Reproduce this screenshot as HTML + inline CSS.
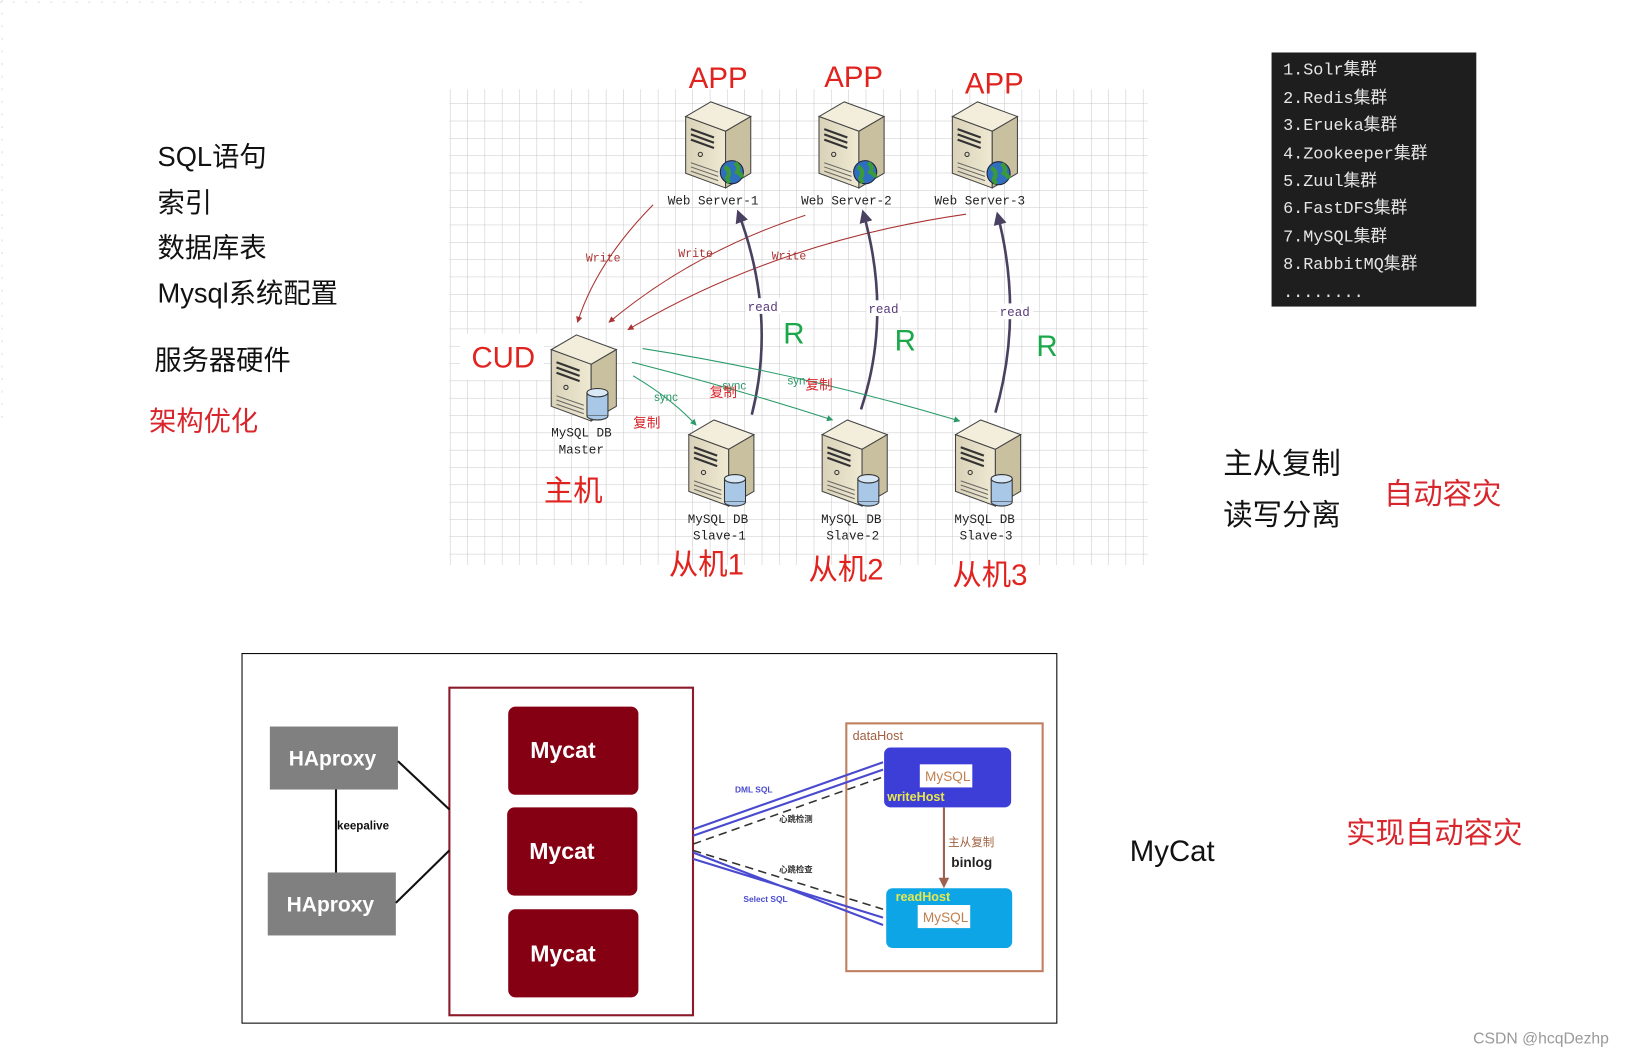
<!DOCTYPE html>
<html><head><meta charset="utf-8"><style>
html,body{margin:0;padding:0;background:#fff;width:1638px;height:1052px;overflow:hidden}
svg text{font-family:"Liberation Sans","Noto Sans CJK SC",sans-serif}
svg .mono text{font-family:"Liberation Mono","DejaVu Sans Mono","Noto Sans CJK SC",monospace}
</style></head><body>
<svg width="1638" height="1052" viewBox="0 0 1560 1002" preserveAspectRatio="none" xmlns="http://www.w3.org/2000/svg">
<defs>
<pattern id="grid" width="16.5" height="16.5" patternUnits="userSpaceOnUse">
<path d="M16.5 0V16.5H0" fill="none" stroke="#c8c8c8" stroke-width="1"/>
</pattern>
<linearGradient id="tw" x1="0" x2="1"><stop offset="0" stop-color="#d9d2b8"/><stop offset="1" stop-color="#efe9d3"/></linearGradient>
<g id="srv">
<polygon points="0,14 24,0 62,14 38,28" fill="#f3eedc" stroke="#444" stroke-width="1"/>
<polygon points="0,14 38,28 38,82 0,68" fill="url(#tw)" stroke="#444" stroke-width="1"/>
<polygon points="38,28 62,14 62,68 38,82" fill="#c9c0a0" stroke="#444" stroke-width="1"/>
<path d="M5 26l22 8M5 31l22 8M5 36l22 8" stroke="#333" stroke-width="2"/>
<circle cx="14" cy="50" r="2" fill="none" stroke="#333"/>
<path d="M5 58l26 9M5 62l26 9M5 66l26 9" stroke="#666" stroke-width="1"/>
</g>
<g id="globe"><circle cx="0" cy="0" r="11" fill="#2f6fbf" stroke="#223"/><path d="M-7-5q5 2 4 8q-3 3 1 7M3-9q5 4 2 9q4 2 5 5" stroke="#3a9a3a" stroke-width="4" fill="none"/></g>
<g id="db"><rect x="-10" y="-10" width="20" height="22" fill="#a9c8e8" stroke="#333"/><ellipse cx="0" cy="-10" rx="10" ry="4" fill="#d8e8f6" stroke="#333"/><path d="M-10 12a10 4 0 0 0 20 0" fill="#a9c8e8" stroke="#333"/></g>
<marker id="ar" viewBox="0 0 10 10" refX="9" refY="5" markerWidth="6" markerHeight="6" orient="auto"><path d="M0 0L10 5L0 10z" fill="#a33"/></marker>
<marker id="ag" viewBox="0 0 10 10" refX="9" refY="5" markerWidth="6" markerHeight="6" orient="auto"><path d="M0 0L10 5L0 10z" fill="#2a9a6a"/></marker>
<marker id="ab" viewBox="0 0 10 10" refX="8" refY="5" markerWidth="5" markerHeight="5" orient="auto"><path d="M0 0L10 5L0 10z" fill="#4a4060"/></marker>
</defs>

<path d="M0 2H555" stroke="#ddd" stroke-dasharray="2 10"/>
<path d="M2 0V400" stroke="#ddd" stroke-dasharray="2 10"/>

<g font-size="26" fill="#111">
<text x="150" y="158">SQL语句</text>
<text x="150" y="202">索引</text>
<text x="150" y="245">数据库表</text>
<text x="150" y="288">Mysql系统配置</text>
<text x="147" y="352">服务器硬件</text>
<text x="142" y="410" fill="#d9262c">架构优化</text>
</g>

<rect x="428" y="85" width="665" height="453" fill="url(#grid)"/>
<rect x="438" y="318" width="80" height="44" fill="#fff"/>

<g font-size="28" fill="#e0231f">
<text x="656" y="84">APP</text><text x="785" y="83">APP</text><text x="919" y="89">APP</text>
<text x="449" y="350">CUD</text>
<text x="518" y="477">主机</text>
<text x="637" y="547">从机1</text><text x="770" y="552">从机2</text><text x="907" y="557">从机3</text>
</g>

<use href="#srv" x="653" y="97"/><use href="#globe" x="697" y="164"/>
<use href="#srv" x="780" y="97"/><use href="#globe" x="824" y="164"/>
<use href="#srv" x="907" y="97"/><use href="#globe" x="951" y="165"/>
<use href="#srv" x="525" y="319"/><use href="#db" x="569" y="384"/>
<use href="#srv" x="656" y="400"/><use href="#db" x="700" y="466"/>
<use href="#srv" x="783" y="400"/><use href="#db" x="827" y="466"/>
<use href="#srv" x="910" y="400"/><use href="#db" x="954" y="466"/>

<g class="mono" font-size="12" fill="#222">
<text x="636" y="195">Web Server-1</text><text x="763" y="195">Web Server-2</text><text x="890" y="195">Web Server-3</text>
<text x="525" y="416">MySQL DB</text><text x="532" y="432">Master</text>
<text x="655" y="498">MySQL DB</text><text x="660" y="514">Slave-1</text>
<text x="782" y="498">MySQL DB</text><text x="787" y="514">Slave-2</text>
<text x="909" y="498">MySQL DB</text><text x="914" y="514">Slave-3</text>
</g>

<g fill="none" stroke="#a33" stroke-width="1">
<path d="M622 195Q568 250 550 307" marker-end="url(#ar)"/>
<path d="M767 205Q660 240 580 307" marker-end="url(#ar)"/>
<path d="M920 204Q740 230 598 314" marker-end="url(#ar)"/>
</g>
<g class="mono" font-size="11" fill="#a33">
<text x="558" y="249">Write</text><text x="646" y="245">Write</text><text x="735" y="247">Write</text>
</g>
<g fill="none" stroke="#4a4060" stroke-width="2.5">
<path d="M716 395Q740 300 703 202" marker-end="url(#ab)"/>
<path d="M820 390Q850 300 822 202" marker-end="url(#ab)"/>
<path d="M948 393Q975 300 950 204" marker-end="url(#ab)"/>
</g>
<rect x="710" y="284" width="34" height="15" fill="#fff"/>
<rect x="825" y="286" width="34" height="15" fill="#fff"/>
<rect x="950" y="289" width="34" height="15" fill="#fff"/>
<g class="mono" font-size="12" fill="#5a3a7a">
<text x="712" y="296">read</text><text x="827" y="298">read</text><text x="952" y="301">read</text>
</g>
<g font-size="28" fill="#1aa84a"><text x="746" y="327">R</text><text x="852" y="334">R</text><text x="987" y="339">R</text></g>

<g fill="none" stroke="#2a9a6a" stroke-width="1">
<path d="M603 358Q640 380 663 405" marker-end="url(#ag)"/>
<path d="M602 345Q700 370 793 400" marker-end="url(#ag)"/>
<path d="M612 332Q760 355 914 401" marker-end="url(#ag)"/>
</g>
<g font-size="11" fill="#2a9a6a"><text x="623" y="382">sync</text><text x="688" y="371">sync</text><text x="750" y="366">syn</text></g>
<g font-size="13" fill="#d9262c"><text x="603" y="407">复制</text><text x="676" y="378">复制</text><text x="767" y="371">复制</text></g>

<rect x="1211" y="50" width="195" height="242" fill="#1e1e1e"/>
<g class="mono" font-size="16" fill="#e6e6e6">
<text x="1222" y="71">1.Solr集群</text><text x="1222" y="98">2.Redis集群</text><text x="1222" y="124">3.Erueka集群</text>
<text x="1222" y="151">4.Zookeeper集群</text><text x="1222" y="177">5.Zuul集群</text><text x="1222" y="203">6.FastDFS集群</text>
<text x="1222" y="230">7.MySQL集群</text><text x="1222" y="256">8.RabbitMQ集群</text><text x="1222" y="283">........</text>
</g>

<g font-size="28" fill="#111"><text x="1165" y="451">主从复制</text><text x="1165" y="500">读写分离</text>
<text x="1076" y="820">MyCat</text></g>
<g font-size="28" fill="#d9262c"><text x="1318" y="480">自动容灾</text><text x="1282" y="803">实现自动容灾</text></g>

<rect x="230.5" y="622.5" width="776" height="352" fill="#fff" stroke="#000" stroke-width="1"/>
<rect x="428" y="655" width="232" height="312" fill="none" stroke="#8b1a2a" stroke-width="2"/>
<rect x="257" y="692" width="122" height="60" fill="#808080"/>
<rect x="255" y="831" width="122" height="60" fill="#808080"/>
<g font-size="20" font-weight="bold" fill="#fff"><text x="275" y="729">HAproxy</text><text x="273" y="868">HAproxy</text></g>
<path d="M320 752V831M379 725L428 771M377 860L428 810" stroke="#111" stroke-width="2"/>
<text x="321" y="790" font-size="11" font-weight="bold" fill="#111">keepalive</text>
<g fill="#840012"><rect x="484" y="673" width="124" height="84" rx="7"/><rect x="483" y="769" width="124" height="84" rx="7"/><rect x="484" y="866" width="124" height="84" rx="7"/></g>
<g font-size="22" font-weight="bold" fill="#fff"><text x="505" y="722">Mycat</text><text x="504" y="818">Mycat</text><text x="505" y="916">Mycat</text></g>
<rect x="806" y="689" width="187" height="236" fill="none" stroke="#c08060" stroke-width="2"/>
<text x="812" y="705" font-size="12" fill="#a06040">dataHost</text>
<rect x="842" y="712" width="121" height="57" rx="6" fill="#3d3dd8"/>
<rect x="844" y="846" width="120" height="57" rx="6" fill="#0ea5e6"/>
<rect x="876" y="728" width="50" height="22" fill="#fff"/><rect x="874" y="862" width="50" height="22" fill="#fff"/>
<g font-size="13" fill="#c08050"><text x="881" y="744">MySQL</text><text x="879" y="878">MySQL</text></g>
<g font-size="12" font-weight="bold" fill="#e8e84a"><text x="845" y="763">writeHost</text><text x="853" y="858">readHost</text></g>
<path d="M899 769V840" stroke="#a06050" stroke-width="2"/><path d="M894 836l5 10 5-10z" fill="#a06050"/>
<text x="903" y="806" font-size="11" fill="#a06040">主从复制</text>
<text x="906" y="826" font-size="13" font-weight="bold" fill="#222">binlog</text>
<g stroke="#4a4ad0" stroke-width="2" fill="none"><path d="M660 790L841 726M660 796L841 733M660 818L841 874M660 812L841 881"/></g>
<g stroke="#333" stroke-width="1.5" stroke-dasharray="8 5" fill="none"><path d="M660 804L841 740M660 810L841 866"/></g>
<g font-size="8" font-weight="bold"><text x="700" y="755" fill="#4a4ad0">DML SQL</text><text x="708" y="859" fill="#4a4ad0">Select SQL</text>
<text x="742" y="783" fill="#333">心跳检测</text><text x="742" y="831" fill="#333">心跳检查</text></g>

<text x="1403" y="994" font-size="15" fill="#999">CSDN @hcqDezhp</text>
</svg>
</body></html>
